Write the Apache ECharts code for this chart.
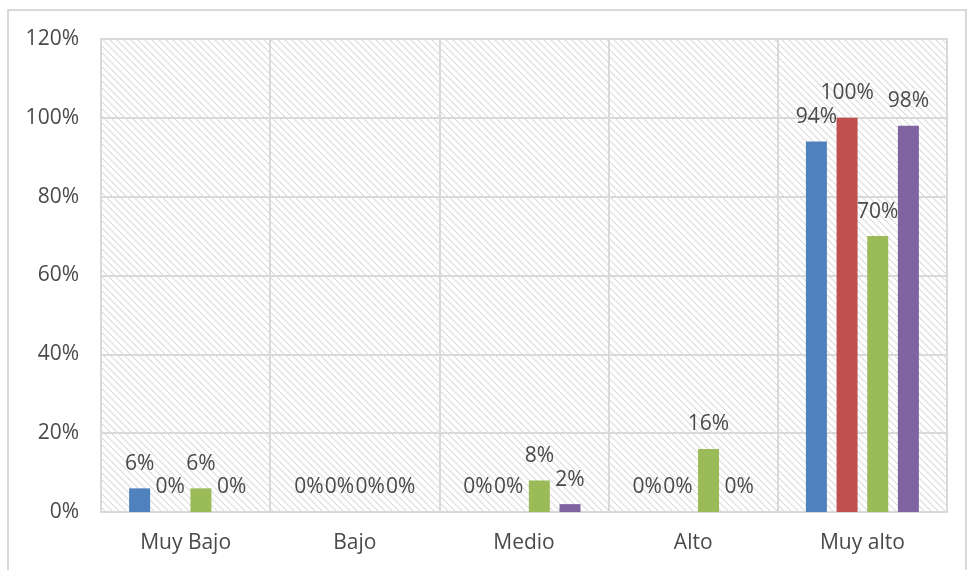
<!DOCTYPE html>
<html>
<head>
<meta charset="utf-8">
<script src="https://cdn.jsdelivr.net/npm/echarts@6/dist/echarts.min.js"></script>
<style>html,body{margin:0;padding:0;background:#fff;}#c{width:967px;height:570px;}</style>
</head>
<body>
<div id="c"></div>
<script>
const categories = ['Muy Bajo', 'Bajo', 'Medio', 'Alto', 'Muy alto'];
const serie1 = [6, 0, 0, 0, 94];
const serie2 = [0, 0, 0, 0, 100];
const serie3 = [6, 0, 8, 16, 70];
const serie4 = [0, 0, 2, 0, 98];
const yTicks = [0, 20, 40, 60, 80, 100, 120];
const colors = ['#4F81BD', '#C0504D', '#9BBB59', '#8064A2'];

function makeHatch() {
  const s = 7;
  const cv = document.createElement('canvas');
  cv.width = s; cv.height = s;
  const ctx = cv.getContext('2d');
  ctx.fillStyle = '#ffffff';
  ctx.fillRect(0, 0, s, s);
  ctx.strokeStyle = '#dadada';
  ctx.lineWidth = 1.1;
  for (let k = -1; k <= 1; k++) {
    ctx.beginPath();
    ctx.moveTo(0, k * s);
    ctx.lineTo(s, s + k * s);
    ctx.stroke();
  }
  return cv;
}

const chart = echarts.init(document.getElementById('c'));
const font = 'Open Sans';
const txt = '#4a4a4a';
const all = [serie1, serie2, serie3, serie4];
const series = all.map((d, i) => ({
  type: 'bar',
  data: d,
  barWidth: 21,
  barGap: '46%',
  itemStyle: { color: colors[i] },
  label: {
    show: true, position: 'top', distance: 14,
    formatter: p => p.value + '%',
    fontFamily: font, fontSize: 21, color: txt
  }
}));

chart.setOption({
  animation: false,
  backgroundColor: '#ffffff',
  graphic: [{
    type: 'rect', shape: { x: 8, y: 10, width: 958, height: 600 },
    style: { fill: 'none', stroke: '#d9d9d9', lineWidth: 2 }, silent: true, z: -1
  }],
  grid: {
    left: 101, right: 20, top: 39, bottom: 58,
    show: true,
    backgroundColor: { image: makeHatch(), repeat: 'repeat' },
    borderColor: '#d9d9d9', borderWidth: 2
  },
  xAxis: {
    type: 'category', data: categories,
    axisLine: { show: true, lineStyle: { color: '#d9d9d9', width: 2 } },
    axisTick: { show: false },
    splitLine: { show: true, interval: 0, lineStyle: { color: '#d9d9d9', width: 2 } },
    axisLabel: { fontFamily: font, fontSize: 21, color: txt, margin: 21 }
  },
  yAxis: {
    type: 'value', min: yTicks[0], max: yTicks[yTicks.length - 1], interval: 20,
    axisLine: { show: false }, axisTick: { show: false },
    splitLine: { lineStyle: { color: '#d9d9d9', width: 2 } },
    axisLabel: { fontFamily: font, fontSize: 21, color: txt, margin: 22, formatter: v => v + '%' }
  },
  series: series
});
</script>
</body>
</html>
